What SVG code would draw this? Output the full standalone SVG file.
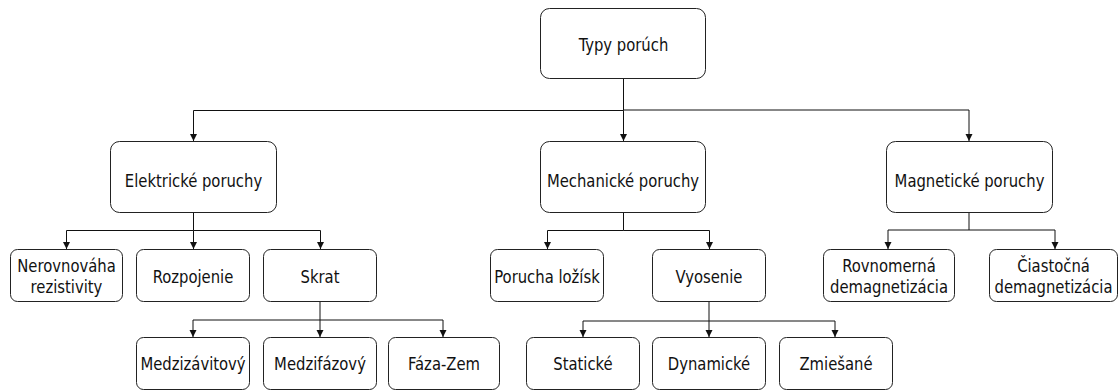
<svg xmlns="http://www.w3.org/2000/svg" width="1119" height="392" viewBox="0 0 1119 392">
<style>
  .box{fill:#fff;stroke:#222;stroke-width:1}
  .t{font-family:"DejaVu Sans Condensed","DejaVu Sans",sans-serif;font-stretch:condensed;font-size:18.5px;fill:#111;text-anchor:middle}
  .c{fill:none;stroke:#111;stroke-width:1;marker-end:url(#ah)}
</style>
<defs>
  <marker id="ah" markerUnits="userSpaceOnUse" markerWidth="8" markerHeight="8" refX="7" refY="3.5" orient="auto">
    <path d="M0,0 L7,3.5 L0,7 z" fill="#111"/>
  </marker>
</defs>
<rect width="1119" height="392" fill="#fff"/>
<g id="connectors">
  <path class="c" d="M623.5,78.5 V110.5 H193.5 V141"/>
  <path class="c" d="M623.5,110.5 V141"/>
  <path class="c" d="M623.5,110 H969 V141"/>
  <path class="c" d="M193.5,212.5 V230.5 H66.5 V249"/>
  <path class="c" d="M193.5,230.5 V249"/>
  <path class="c" d="M193.5,230.5 H320.5 V249"/>
  <path class="c" d="M320,301.5 V320 H193 V337"/>
  <path class="c" d="M320,320 V337"/>
  <path class="c" d="M320,320 H443 V337"/>
  <path class="c" d="M623.5,212.5 V230.5 H547.5 V249"/>
  <path class="c" d="M623.5,230.5 H709.5 V249"/>
  <path class="c" d="M709,301.5 V321 H583 V337"/>
  <path class="c" d="M709,321 V337"/>
  <path class="c" d="M709,321 H835 V337"/>
  <path class="c" d="M969,213 V230 H888 V249"/>
  <path class="c" d="M969,230 H1055 V249"/>
</g>
<g id="root"><rect class="box" x="540.5" y="8.5" width="165" height="70" rx="9"/><text class="t" transform="translate(623.5,51) scale(0.89,1)">Typy porúch</text></g>
<g id="elektricke"><rect class="box" x="110.5" y="141.5" width="166" height="71" rx="9"/><text class="t" transform="translate(193.5,187) scale(0.89,1)">Elektrické poruchy</text></g>
<g id="mechanicke"><rect class="box" x="540.5" y="141.5" width="165" height="71" rx="9"/><text class="t" transform="translate(623,187) scale(0.89,1)">Mechanické poruchy</text></g>
<g id="magneticke"><rect class="box" x="886.5" y="141.5" width="166" height="71" rx="9"/><text class="t" transform="translate(969.5,187) scale(0.89,1)">Magnetické poruchy</text></g>
<g id="nerovnovaha"><rect class="box" x="10.5" y="249.5" width="112" height="52" rx="7"/><text class="t" transform="translate(66.5,272) scale(0.89,1)"><tspan x="0" y="0">Nerovnováha</tspan><tspan x="0" y="21">rezistivity</tspan></text></g>
<g id="rozpojenie"><rect class="box" x="136.5" y="249.5" width="113" height="52" rx="7"/><text class="t" transform="translate(193,283) scale(0.89,1)">Rozpojenie</text></g>
<g id="skrat"><rect class="box" x="263.5" y="249.5" width="113" height="52" rx="7"/><text class="t" transform="translate(320,283) scale(0.89,1)">Skrat</text></g>
<g id="porucha-lozisk"><rect class="box" x="490.5" y="249.5" width="113" height="52" rx="7"/><text class="t" transform="translate(547,283) scale(0.89,1)">Porucha ložísk</text></g>
<g id="vyosenie"><rect class="box" x="652.5" y="249.5" width="113" height="52" rx="7"/><text class="t" transform="translate(709,283) scale(0.89,1)">Vyosenie</text></g>
<g id="rovnomerna"><rect class="box" x="823.5" y="249.5" width="131" height="52" rx="7"/><text class="t" transform="translate(889,272) scale(0.89,1)"><tspan x="0" y="0">Rovnomerná</tspan><tspan x="0" y="21">demagnetizácia</tspan></text></g>
<g id="ciastocna"><rect class="box" x="989.5" y="249.5" width="128" height="52" rx="7"/><text class="t" transform="translate(1053.5,272) scale(0.89,1)"><tspan x="0" y="0">Čiastočná</tspan><tspan x="0" y="21">demagnetizácia</tspan></text></g>
<g id="medzizavitovy"><rect class="box" x="136.5" y="337.5" width="113" height="52" rx="7"/><text class="t" transform="translate(193,370) scale(0.89,1)">Medzizávitový</text></g>
<g id="medzifazovy"><rect class="box" x="263.5" y="337.5" width="113" height="52" rx="7"/><text class="t" transform="translate(320,370) scale(0.89,1)">Medzifázový</text></g>
<g id="faza-zem"><rect class="box" x="388.5" y="337.5" width="111" height="52" rx="7"/><text class="t" transform="translate(444,370) scale(0.89,1)">Fáza-Zem</text></g>
<g id="staticke"><rect class="box" x="526.5" y="337.5" width="113" height="52" rx="7"/><text class="t" transform="translate(583,370) scale(0.89,1)">Statické</text></g>
<g id="dynamicke"><rect class="box" x="652.5" y="337.5" width="113" height="52" rx="7"/><text class="t" transform="translate(709,370) scale(0.89,1)">Dynamické</text></g>
<g id="zmiesane"><rect class="box" x="779.5" y="337.5" width="113" height="52" rx="7"/><text class="t" transform="translate(836,370) scale(0.89,1)">Zmiešané</text></g>
</svg>
